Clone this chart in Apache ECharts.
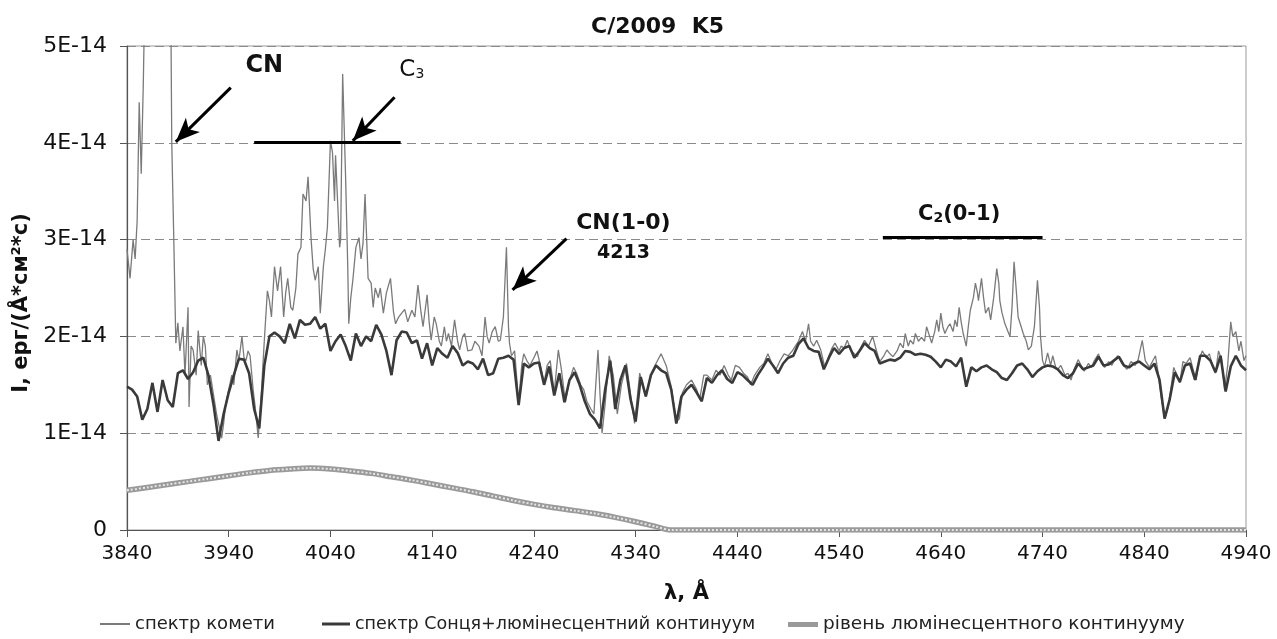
<!DOCTYPE html>
<html>
<head>
<meta charset="utf-8">
<script src="https://cdn.jsdelivr.net/npm/echarts@6/dist/echarts.min.js"></script>
<style>
html,body{margin:0;padding:0;background:#fff;}
#chart{width:1277px;height:639px;}
</style>
</head>
<body>
<div id="chart"></div>
<script>
// ---------- DATA (intensity in units of 1E-14 erg/(Å*cm²*s)) ----------
const titleText = 'C/2009  K5';
const xTicks = [3840,3940,4040,4140,4240,4340,4440,4540,4640,4740,4840,4940];
const yTicks = [0,1,2,3,4,5];

// comet spectrum: [wavelength Å, intensity]
const cometSpectrum = [
[3840,2.9],[3843,2.6],[3846,3.0],[3848,2.8],[3850,3.2],[3852,4.42],[3854,3.68],[3856,4.6],[3858,5.8],[3862,7.5],[3868,9],[3876,9.5],[3882,7],[3884,4.0],[3886,3.0],[3888,1.93],
[3890,2.14],[3892,1.85],[3895,2.1],[3897,1.6],[3900,2.3],[3901,1.27],[3903,1.9],[3905,1.86],[3908,1.6],[3910,2.06],[3913,1.7],[3915,2.0],[3917,1.9],[3919,1.5],[3922,1.6],[3925,1.4],[3928,1.2],[3930,1.1],[3933,0.95],[3935,1.1],[3937,1.3],
[3940,1.45],[3943,1.6],[3945,1.5],[3948,1.86],[3950,1.75],[3953,2.0],[3955,1.78],[3957,1.75],[3959,1.85],[3961,1.8],[3964,1.45],[3966,1.27],[3969,0.95],[3972,1.4],[3975,1.96],[3978,2.47],[3980,2.37],[3982,2.2],[3985,2.72],[3988,2.47],
[3991,2.72],[3994,2.2],[3996,2.45],[3998,2.6],[4001,2.3],[4003,2.27],[4006,2.5],[4008,2.85],[4011,2.92],[4013,3.47],[4016,3.4],[4018,3.65],[4021,3.0],[4023,2.7],[4025,2.58],[4028,2.72],[4030,2.24],[4033,2.72],[4035,2.9],[4037,3.13],
[4040,4.02],[4042,3.9],[4044,3.4],[4045,3.87],[4047,3.4],[4049,2.92],[4050,3.0],[4052,4.71],[4055,3.6],[4057,2.72],[4058,2.13],[4060,2.4],[4062,2.58],[4065,2.92],[4068,3.02],[4070,2.8],[4072,2.96],[4074,3.47],[4077,2.6],[4080,2.55],
[4082,2.3],[4084,2.5],[4087,2.4],[4089,2.5],[4092,2.24],[4095,2.45],[4099,2.6],[4102,2.25],[4104,2.13],[4107,2.2],[4110,2.24],[4113,2.28],[4116,2.15],[4120,2.27],[4123,2.2],[4126,2.53],[4129,2.25],[4131,2.1],[4135,2.43],[4137,2.15],
[4139,1.96],[4142,2.2],[4144,2.13],[4147,1.95],[4149,1.9],[4152,2.1],[4154,1.95],[4156,2.03],[4159,1.9],[4162,2.17],[4165,1.95],[4167,1.86],[4170,2.0],[4172,2.03],[4175,1.85],[4179,1.86],[4182,1.95],[4186,1.9],[4189,1.8],[4192,2.2],
[4194,2.0],[4196,1.93],[4199,2.05],[4202,2.1],[4205,1.95],[4207,1.96],[4210,2.2],[4213,2.92],[4215,2.1],[4216,1.93],[4218,1.8],[4221,1.85],[4225,1.32],[4228,1.7],[4230,1.82],[4233,1.75],[4236,1.7],[4240,1.78],[4243,1.85],[4246,1.72],
[4250,1.52],[4253,1.7],[4256,1.75],[4260,1.42],[4264,1.86],[4267,1.66],[4271,1.32],[4275,1.55],[4279,1.68],[4282,1.62],[4286,1.5],[4289,1.45],[4292,1.33],[4296,1.25],[4299,1.2],[4303,1.86],[4305,1.4],[4307,1.0],[4310,1.3],[4314,1.8],
[4318,1.6],[4322,1.2],[4326,1.5],[4331,1.72],[4335,1.4],[4339,1.1],[4344,1.62],[4350,1.38],[4355,1.6],[4360,1.72],[4365,1.82],[4370,1.7],[4375,1.48],[4380,1.12],[4383,1.15],[4386,1.42],[4390,1.5],[4395,1.55],[4400,1.45],[4403,1.35],
[4407,1.6],[4410,1.6],[4415,1.55],[4419,1.65],[4423,1.6],[4427,1.7],[4431,1.6],[4434,1.55],[4438,1.7],[4442,1.68],[4446,1.62],[4450,1.58],[4453,1.5],[4457,1.6],[4462,1.68],[4466,1.72],[4470,1.82],[4474,1.72],[4478,1.66],[4482,1.75],
[4486,1.82],[4490,1.8],[4494,1.85],[4497,1.9],[4500,1.95],[4504,2.05],[4507,1.95],[4510,2.13],[4512,1.95],[4515,1.9],[4518,1.96],[4522,1.86],[4526,1.68],[4530,1.8],[4533,1.88],[4536,1.93],[4540,1.85],[4542,1.9],[4545,1.88],[4548,1.96],
[4552,1.85],[4555,1.82],[4558,1.79],[4562,1.9],[4565,1.96],[4569,1.9],[4573,2.0],[4576,1.88],[4580,1.74],[4584,1.8],[4587,1.86],[4590,1.82],[4593,1.79],[4597,1.85],[4600,1.93],[4603,1.88],[4605,2.03],[4608,1.9],[4610,1.96],[4613,1.92],
[4615,2.03],[4618,1.95],[4621,1.99],[4624,1.95],[4626,2.1],[4629,2.0],[4631,1.93],[4634,2.05],[4636,2.17],[4638,2.05],[4640,2.24],[4642,2.1],[4644,2.03],[4647,2.1],[4649,2.13],[4652,2.05],[4654,2.17],[4656,2.1],[4658,2.3],[4660,2.15],
[4662,2.03],[4665,1.9],[4667,2.1],[4669,2.27],[4672,2.4],[4674,2.55],[4676,2.45],[4677,2.37],[4680,2.6],[4682,2.4],[4684,2.24],[4687,2.3],[4689,2.17],[4692,2.4],[4695,2.7],[4697,2.55],[4698,2.37],[4700,2.25],[4703,2.13],[4706,2.05],
[4708,2.0],[4710,2.3],[4712,2.77],[4714,2.5],[4716,2.2],[4719,2.1],[4721,2.03],[4724,1.95],[4726,1.86],[4729,1.9],[4732,2.1],[4735,2.58],[4737,2.3],[4738,2.0],[4740,1.75],[4742,1.69],[4745,1.83],[4748,1.7],[4750,1.8],[4753,1.68],
[4755,1.66],[4758,1.7],[4762,1.6],[4765,1.62],[4768,1.55],[4771,1.66],[4775,1.76],[4778,1.7],[4781,1.64],[4785,1.72],[4788,1.68],[4791,1.75],[4795,1.82],[4798,1.72],[4801,1.68],[4805,1.74],[4808,1.7],[4811,1.76],[4814,1.8],[4818,1.72],
[4823,1.66],[4827,1.74],[4831,1.7],[4834,1.76],[4838,1.96],[4841,1.75],[4845,1.68],[4848,1.74],[4851,1.8],[4854,1.6],[4857,1.35],[4860,1.15],[4863,1.25],[4866,1.45],[4869,1.68],[4872,1.6],[4875,1.52],[4878,1.74],[4881,1.72],[4885,1.78],
[4888,1.66],[4891,1.55],[4894,1.76],[4897,1.85],[4901,1.78],[4904,1.82],[4907,1.7],[4910,1.62],[4913,1.85],[4916,1.76],[4919,1.45],[4922,1.7],[4925,2.15],[4927,2.0],[4930,2.05],[4933,1.85],[4935,1.95],[4938,1.75],[4940,1.8]
];

// solar spectrum + luminescent continuum, sampled every 5 Å from 3840 Å
const sunLambdaStart = 3840;
const sunLambdaStep = 5;
const sunContinuum = [
1.48,1.45,1.38,1.14,1.25,1.52,1.22,1.55,1.34,1.27,
1.62,1.65,1.56,1.63,1.75,1.78,1.60,1.30,0.92,1.20,
1.42,1.60,1.77,1.76,1.62,1.25,1.05,1.70,2.00,2.04,
2.00,1.93,2.13,1.98,2.17,2.12,2.13,2.20,2.08,2.13,
1.85,1.95,2.02,1.90,1.75,2.03,1.90,2.00,1.95,2.12,
2.02,1.85,1.60,1.96,2.05,2.04,1.93,1.96,1.77,1.93,
1.70,1.88,1.82,1.78,1.90,1.83,1.70,1.74,1.72,1.66,
1.77,1.60,1.62,1.77,1.78,1.80,1.76,1.29,1.72,1.68,
1.72,1.73,1.50,1.69,1.39,1.62,1.32,1.55,1.63,1.50,
1.33,1.20,1.14,1.05,1.45,1.75,1.25,1.55,1.70,1.35,
1.12,1.58,1.38,1.60,1.70,1.65,1.62,1.45,1.10,1.38,
1.45,1.50,1.42,1.33,1.57,1.52,1.60,1.65,1.56,1.52,
1.63,1.60,1.55,1.50,1.60,1.68,1.77,1.70,1.62,1.72,
1.78,1.80,1.92,1.98,1.88,1.85,1.84,1.66,1.78,1.88,
1.82,1.88,1.90,1.78,1.85,1.93,1.88,1.85,1.72,1.74,
1.76,1.75,1.78,1.85,1.84,1.81,1.82,1.81,1.79,1.74,
1.68,1.76,1.74,1.69,1.78,1.48,1.68,1.64,1.68,1.70,
1.66,1.63,1.57,1.55,1.62,1.70,1.72,1.66,1.58,1.64,
1.68,1.70,1.69,1.66,1.60,1.57,1.62,1.72,1.66,1.68,
1.70,1.79,1.70,1.71,1.75,1.79,1.70,1.68,1.72,1.74,
1.70,1.66,1.72,1.55,1.15,1.35,1.63,1.53,1.70,1.72,
1.55,1.80,1.80,1.75,1.63,1.80,1.43,1.69,1.80,1.70,
1.65
];

// luminescent continuum level: [wavelength Å, intensity]
const continuumLevel = [
[3840,0.41],[3860,0.44],[3880,0.47],[3900,0.50],[3920,0.53],[3940,0.56],[3960,0.59],[3980,0.615],[4000,0.63],[4020,0.64],
[4040,0.63],[4060,0.61],[4080,0.585],[4100,0.55],[4120,0.515],[4140,0.475],[4160,0.435],[4180,0.395],[4200,0.35],[4220,0.305],
[4240,0.265],[4260,0.23],[4280,0.20],[4300,0.17],[4320,0.13],[4340,0.085],[4360,0.035],[4375,0],[4440,0],[4540,0],
[4640,0],[4740,0],[4840,0],[4940,0]
];

// annotations (data coordinates)
const labels = {
  cn:    {text:'CN',      at:[3975,4.80]},
  c3:    {text:'C3',      at:[4120,4.75]},
  cn10:  {text:'CN(1-0)', at:[4328,3.17]},
  cn10b: {text:'4213',    at:[4328,2.86]},
  c2:    {text:'C2(0-1)', at:[4658,3.26]}
};
const arrows = [
  [[3942,4.57],[3888,4.01]],
  [[4103,4.47],[4062,4.02]],
  [[4272,3.01],[4219,2.48]]
];
const bands = [
  [[3965,4.01],[4109,4.01]],
  [[4583,3.02],[4740,3.02]]
];
const names = ['спектр комети','спектр Сонця+люмінесцентний континуум','рівень люмінесцентного континууму'];

// ---------- BUILD ----------
const sunData = sunContinuum.map((v,i)=>[sunLambdaStart + i*sunLambdaStep, v]);
const font = 'DejaVu Sans, Liberation Sans, Arial, sans-serif';

const chart = echarts.init(document.getElementById('chart'), null, {renderer:'canvas'});

const markLineData = [];
arrows.forEach(a=>markLineData.push([
  {coord:a[0], symbol:'none'},
  {coord:a[1], symbol:'arrow', symbolSize:[15,24]}
]));
bands.forEach(b=>markLineData.push([
  {coord:b[0], symbol:'none', lineStyle:{width:3}},
  {coord:b[1], symbol:'none'}
]));

function mp(key, rich, fmt){
  return {coord:labels[key].at, symbol:'circle', symbolSize:0,
    label:{show:true, position:'inside', formatter:fmt, rich:rich}};
}
const markPointData = [
  mp('cn', {a:{fontSize:24,fontWeight:'bold',color:'#111',fontFamily:font}}, '{a|CN}'),
  mp('c3', {a:{fontSize:23,color:'#111',fontFamily:font}, b:{fontSize:14,color:'#111',fontFamily:font,padding:[8,0,0,0]}}, '{a|C}{b|3}'),
  mp('cn10', {a:{fontSize:22,fontWeight:'bold',color:'#111',fontFamily:font}}, '{a|CN(1-0)}'),
  mp('cn10b', {a:{fontSize:19,fontWeight:'bold',color:'#111',fontFamily:font}}, '{a|4213}'),
  mp('c2', {a:{fontSize:21,fontWeight:'bold',color:'#111',fontFamily:font}, b:{fontSize:14,fontWeight:'bold',color:'#111',fontFamily:font,padding:[8,0,0,0]}}, '{a|C}{b|2}{a|(0-1)}')
];

const option = {
  backgroundColor:'#fff',
  animation:false,
  title:{text:titleText, left:586, top:11,
    textStyle:{fontFamily:font, fontSize:22, fontWeight:'bold', color:'#111'}},
  grid:{left:127, right:31, top:46, bottom:109, show:true, borderColor:'#9a9a9a', borderWidth:1},
  legend:[
    {data:[names[0]], left:100, top:615, padding:0, itemWidth:30, itemHeight:2, icon:'rect',
      textStyle:{fontFamily:font, fontSize:18, color:'#222'}},
    {data:[names[1]], left:322, top:615, padding:0, itemWidth:28, itemHeight:3, icon:'rect',
      textStyle:{fontFamily:font, fontSize:17.5, color:'#222'}},
    {data:[names[2]], left:788, top:615, padding:0, itemWidth:30, itemHeight:5, icon:'rect',
      textStyle:{fontFamily:font, fontSize:18.5, color:'#222'}}
  ],
  xAxis:{type:'value', min:xTicks[0], max:xTicks[xTicks.length-1],
    name:'λ, Å', nameLocation:'middle', nameGap:53,
    nameTextStyle:{fontFamily:font, fontSize:21, fontWeight:'bold', color:'#111'},
    axisLine:{lineStyle:{color:'#555', width:1.2}},
    axisTick:{show:true, length:7, customValues:xTicks, lineStyle:{color:'#555'}},
    axisLabel:{customValues:xTicks, margin:14, fontFamily:font, fontSize:20, color:'#111',
      formatter:v=>String(v)},
    splitLine:{show:false}},
  yAxis:{type:'value', min:yTicks[0], max:yTicks[yTicks.length-1], interval:1,
    name:'I, ерг/(Å*см²*с)', nameLocation:'middle', nameGap:92, nameRotate:90,
    nameTextStyle:{fontFamily:font, fontSize:21, fontWeight:'bold', color:'#111', padding:[0,30,0,0]},
    axisLine:{show:true, lineStyle:{color:'#555', width:1.2}},
    axisTick:{show:true, length:7, lineStyle:{color:'#555'}},
    axisLabel:{margin:20, fontFamily:font, fontSize:22, color:'#111',
      formatter:v=> v===0 ? '0' : v+'E-14'},
    splitLine:{show:true, lineStyle:{color:'#8a8a8a', width:1, type:[9,5]}}},
  series:[
    {name:names[0], type:'line', data:cometSpectrum, showSymbol:false, symbol:'none',
      color:'#7a7a7a', lineStyle:{color:'#7a7a7a', width:1.3}, z:2,
      markLine:{silent:true, animation:false, label:{show:false},
        lineStyle:{color:'#000', width:3, type:'solid'}, data:markLineData},
      markPoint:{silent:true, animation:false, data:markPointData}},
    {name:names[1], type:'line', data:sunData, showSymbol:false, symbol:'none',
      color:'#3a3a3a', lineStyle:{color:'#3a3a3a', width:2.6}, z:3},
    {name:names[2], type:'line', data:continuumLevel, showSymbol:false, symbol:'none', smooth:0.3,
      color:'#9a9a9a', lineStyle:{color:'#9a9a9a', width:5.5}, z:4},
    {name:'_cont_pattern', type:'line', data:continuumLevel, showSymbol:false, symbol:'none', smooth:0.3,
      lineStyle:{color:'#e6e6e6', width:2, type:[2,2]}, z:5, legendHoverLink:false}
  ]
};
chart.setOption(option);
</script>
</body>
</html>
